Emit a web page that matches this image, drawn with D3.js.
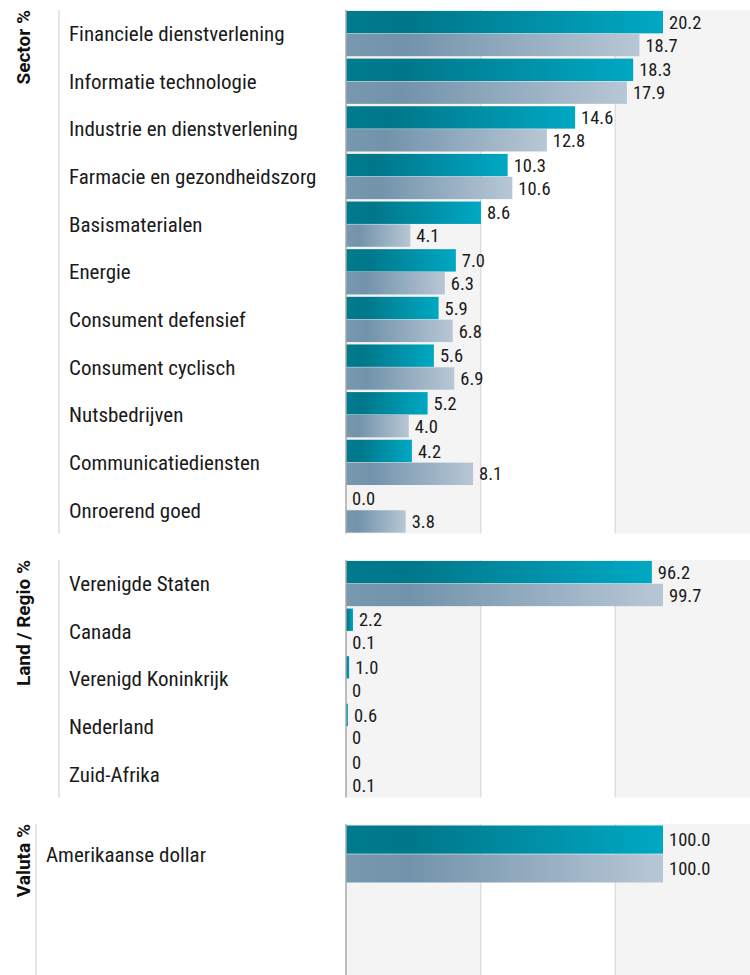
<!DOCTYPE html>
<html>
<head>
<meta charset="utf-8">
<script src="https://cdn.jsdelivr.net/npm/d3@7"></script>
<style>
  body { margin: 0; background: #fff; }
  text { font-family: "Roboto Condensed", "Liberation Sans Narrow", "Arial Narrow", Roboto, sans-serif; }
  text.title { font-family: Roboto, "Liberation Sans", sans-serif; }
</style>
</head>
<body>
<div id="chart"></div>
<script>
// data (fund vs benchmark)
var sectorNames = ["Financiele dienstverlening", "Informatie technologie", "Industrie en dienstverlening",
  "Farmacie en gezondheidszorg", "Basismaterialen", "Energie", "Consument defensief",
  "Consument cyclisch", "Nutsbedrijven", "Communicatiediensten", "Onroerend goed"];
var sectorFund = [20.2, 18.3, 14.6, 10.3, 8.6, 7.0, 5.9, 5.6, 5.2, 4.2, 0.0];
var sectorBench = [18.7, 17.9, 12.8, 10.6, 4.1, 6.3, 6.8, 6.9, 4.0, 8.1, 3.8];

var regioNames = ["Verenigde Staten", "Canada", "Verenigd Koninkrijk", "Nederland", "Zuid-Afrika"];
var regioFund = [96.2, 2.2, 1.0, 0.6, null];
var regioBench = [99.7, 0.1, null, null, 0.1];

var valutaNames = ["Amerikaanse dollar"];
var valutaFund = [100.0];
var valutaBench = [100.0];

var W = 750, H = 975;
var plotLeft = 346, plotRight = 750, barMaxX = 663;

var svg = d3.select("#chart").append("svg")
  .attr("width", W).attr("height", H);

// gradients for the two series
var defs = svg.append("defs");
function grad(id, stops) {
  var g = defs.append("linearGradient").attr("id", id)
    .attr("x1", "0%").attr("x2", "100%").attr("y1", "0%").attr("y2", "0%");
  stops.forEach(function(s) {
    g.append("stop").attr("offset", s[0]).attr("stop-color", s[1]);
  });
}
grad("gFund", [["0%", "#007b8e"], ["20%", "#00778a"], ["100%", "#00a8c3"]]);
grad("gBench", [["0%", "#7898ae"], ["20%", "#7293ab"], ["100%", "#b8c7d5"]]);

var sections = [
  {title: "Sector %", names: sectorNames, fund: sectorFund, bench: sectorBench,
   top: 10, rowH: 47.6, bottom: null, lineX: 59, labelX: 69, zero: "0.0"},
  {title: "Land / Regio %", names: regioNames, fund: regioFund, bench: regioBench,
   top: 560, rowH: 47.5, bottom: null, lineX: 59, labelX: 69, zero: "0"},
  {title: "Valuta %", names: valutaNames, fund: valutaFund, bench: valutaBench,
   top: 824, rowH: 60, bottom: 975, lineX: 36, labelX: 46, zero: "0"}
];

sections.forEach(function(s) {
  var n = s.names.length;
  var rowsBottom = s.top + n * s.rowH;
  var bottom = s.bottom || rowsBottom;
  var g = svg.append("g");

  var y = d3.scaleBand().domain(s.names).range([s.top, rowsBottom]).paddingInner(0.05).paddingOuter(0.02);
  var ySub = d3.scaleBand().domain(["fund", "bench"]).range([0, y.bandwidth()]).paddingInner(0.02);
  var maxV = d3.max(s.fund.concat(s.bench));
  var x = d3.scaleLinear().domain([0, maxV]).range([plotLeft, barMaxX]);

  // background bands and gridlines
  var third = (plotRight - plotLeft) / 3;
  var bands = d3.range(3);
  g.selectAll("rect.band").data(bands).join("rect")
    .attr("x", function(i) { return plotLeft + i * third; })
    .attr("y", s.top).attr("width", third).attr("height", bottom - s.top)
    .attr("fill", function(i) { return i % 2 === 0 ? "#f4f4f4" : "#fff"; });
  g.selectAll("line.grid").data([1, 2]).join("line")
    .attr("x1", function(i) { return plotLeft + i * third; })
    .attr("x2", function(i) { return plotLeft + i * third; })
    .attr("y1", s.top).attr("y2", bottom)
    .attr("stroke", "#dedede").attr("stroke-width", 1.5);

  // left divider and title
  g.append("line").attr("x1", s.lineX).attr("x2", s.lineX)
    .attr("y1", s.top).attr("y2", bottom)
    .attr("stroke", "#d4d4d4").attr("stroke-width", 1.2);
  g.append("text").attr("class", "title")
    .attr("transform", "translate(29.5," + s.top + ") rotate(-90)")
    .attr("text-anchor", "end")
    .attr("font-size", 19).attr("font-weight", "bold").attr("fill", "#111")
    .text(s.title);

  // category labels
  g.selectAll("text.cat").data(s.names).join("text")
    .attr("x", s.labelX)
    .attr("y", function(d) { return y(d) + y.bandwidth() / 2; })
    .attr("dy", "0.36em")
    .attr("font-size", 21).attr("fill", "#1a1a1a")
    .text(function(d) { return d; });

  // bars
  var rows = [];
  s.names.forEach(function(name, i) {
    rows.push({name: name, key: "fund", v: s.fund[i]});
    rows.push({name: name, key: "bench", v: s.bench[i]});
  });
  g.selectAll("rect.bar").data(rows).join("rect")
    .attr("x", plotLeft)
    .attr("y", function(d) { return y(d.name) + ySub(d.key); })
    .attr("width", function(d) { return x(d.v || 0) - plotLeft; })
    .attr("height", ySub.bandwidth())
    .attr("fill", function(d) { return d.key === "fund" ? "url(#gFund)" : "url(#gBench)"; });

  g.selectAll("text.val").data(rows).join("text")
    .attr("x", function(d) { return x(d.v || 0) + 6; })
    .attr("y", function(d) { return y(d.name) + ySub(d.key) + ySub.bandwidth() / 2; })
    .attr("dy", "0.36em")
    .attr("font-size", 18.5).attr("fill", "#1a1a1a")
    .text(function(d) { return d.v === null ? "0" : (d.v === 0 ? s.zero : d.v.toFixed(1)); });

  // zero axis
  g.append("line").attr("x1", plotLeft).attr("x2", plotLeft)
    .attr("y1", s.top).attr("y2", bottom)
    .attr("stroke", "#a8a8a8").attr("stroke-width", 1.5);
});
</script>
</body>
</html>
